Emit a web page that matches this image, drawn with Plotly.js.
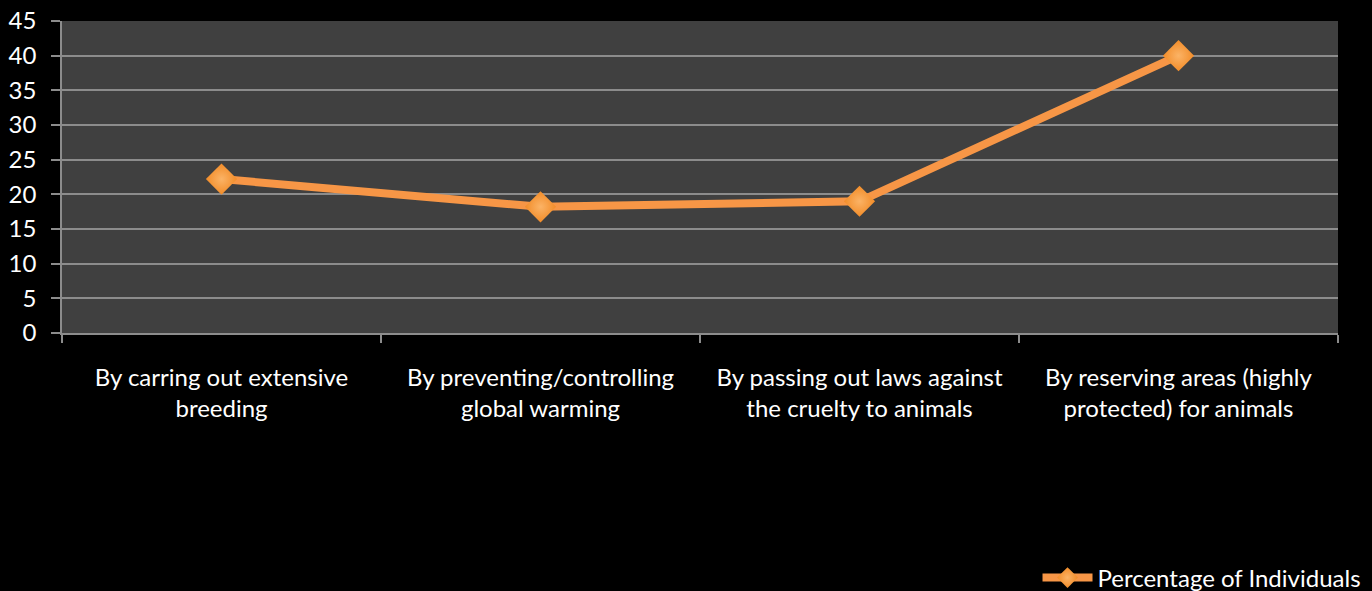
<!DOCTYPE html>
<html>
<head>
<meta charset="utf-8">
<script src="https://cdn.plot.ly/plotly-3.0.1.min.js"></script>
<style>html,body{margin:0;padding:0;background:#000;}#chart{width:1372px;height:591px;}</style>
</head>
<body>
<div id="chart"></div>
<script>
const categories = [
  "By carring out extensive<br>breeding",
  "By preventing/controlling<br>global warming",
  "By passing out laws against<br>the cruelty to animals",
  "By reserving areas (highly<br>protected) for animals"
];
const seriesName = "Percentage of Individuals";
const values = [22.2, 18.2, 19.0, 40.0];
const yTicks = [0, 5, 10, 15, 20, 25, 30, 35, 40, 45];

const trace = {
  type: 'scatter',
  mode: 'lines+markers',
  x: categories,
  y: values,
  name: seriesName,
  line: {color: '#F79646', width: 8},
  marker: {symbol: 'diamond', size: 24, color: '#F28C28',
           gradient: {type: 'radial', color: '#FBB366'},
           line: {width: 0}}
};

const layout = {
  width: 1372, height: 591,
  paper_bgcolor: '#000000',
  plot_bgcolor: '#404040',
  margin: {l: 62, r: 34, t: 21, b: 258},
  font: {family: 'Lato, "Open Sans", sans-serif', color: '#ffffff', size: 24},
  showlegend: true,
  legend: {
    orientation: 'h', xref: 'container', x: 0.996, xanchor: 'right',
    yref: 'container', y: 0.022, yanchor: 'middle',
    itemwidth: 50,
    font: {size: 24, color: '#ffffff'}, bgcolor: 'rgba(0,0,0,0)'
  },
  xaxis: {
    type: 'category',
    tickson: 'boundaries',
    ticks: 'outside', ticklen: 8, tickcolor: '#8c8c8c', tickwidth: 1.5,
    showline: true, linecolor: '#8c8c8c', linewidth: 1.5,
    showgrid: false,
    ticklabelstandoff: 22,
    tickfont: {size: 24, color: '#ffffff'},
    range: [-0.5, 3.5]
  },
  yaxis: {
    range: [0, 45],
    tickvals: yTicks,
    ticktext: yTicks.map(String),
    ticks: 'outside', ticklen: 9, tickcolor: '#8c8c8c', tickwidth: 1.5,
    showline: true, linecolor: '#8c8c8c', linewidth: 1.5,
    gridcolor: '#8c8c8c', gridwidth: 2,
    zeroline: false,
    ticklabelstandoff: 10,
    tickfont: {size: 24, color: '#ffffff'}
  }
};

Plotly.newPlot('chart', [trace], layout, {displayModeBar: false});
</script>
</body>
</html>
